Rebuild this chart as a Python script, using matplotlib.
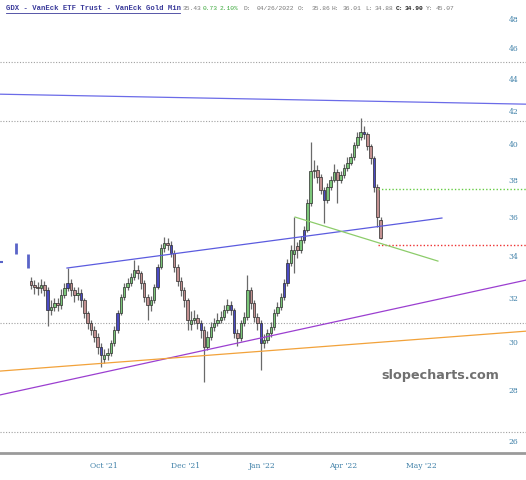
import matplotlib.pyplot as plt
from matplotlib.lines import Line2D
from matplotlib.ticker import FixedLocator, FixedFormatter, NullLocator

# daily OHLC for GDX (last bar = 04/26/2022)
opens = [32.80, 32.60, 32.51, 32.46, 32.60, 32.37, 31.44, 31.58, 31.76, 31.67,
         32.13, 32.46, 32.70, 32.37, 32.13, 32.23, 31.90, 31.31, 30.86, 30.55,
         30.24, 29.80, 29.30, 29.45, 29.54, 29.97, 30.55, 31.31, 32.04, 32.51,
         32.70, 32.98, 33.32, 33.18, 32.70, 32.04, 31.67, 31.90, 32.51, 33.47,
         34.41, 34.66, 34.56, 34.16, 33.47, 32.79, 32.37, 31.90, 30.80, 30.99,
         31.08, 30.86, 30.55, 29.80, 30.24, 30.68, 30.86, 30.99, 31.13, 31.44,
         31.67, 31.44, 30.41, 30.19, 30.86, 31.13, 32.37, 31.76, 31.13, 30.86,
         29.97, 30.10, 30.41, 30.68, 31.31, 31.58, 32.04, 32.70, 33.66, 34.10,
         34.50, 34.31, 34.81, 35.32, 36.74, 38.50, 38.54, 38.15, 37.44, 36.90,
         37.60, 37.99, 38.43, 37.99, 38.27, 38.65, 38.94, 39.27, 39.97, 40.43,
         40.73, 40.60, 39.90, 39.20, 37.60, 35.86]
highs = [33.00, 32.85, 32.75, 32.90, 32.80, 32.50, 31.90, 32.00, 32.00, 32.40,
         32.70, 33.42, 32.90, 32.50, 32.50, 32.40, 32.00, 31.40, 31.00, 30.70,
         30.40, 29.95, 29.70, 29.75, 30.10, 30.70, 31.45, 32.20, 32.70, 32.95,
         33.20, 33.80, 33.55, 33.30, 32.85, 32.20, 32.10, 32.65, 33.60, 34.60,
         34.96, 34.90, 34.75, 34.30, 33.60, 33.00, 32.50, 32.00, 31.40, 31.45,
         31.25, 31.00, 30.70, 30.50, 30.90, 31.10, 31.30, 31.40, 31.65, 31.95,
         31.85, 31.55, 30.60, 31.00, 31.35, 33.08, 32.50, 31.90, 31.30, 31.00,
         30.35, 30.60, 30.90, 31.50, 31.80, 32.25, 32.90, 33.85, 34.55, 35.99,
         34.70, 35.00, 35.55, 36.95, 40.13, 39.10, 38.80, 38.30, 37.60, 37.80,
         38.20, 38.90, 38.60, 38.50, 38.90, 39.30, 39.50, 40.15, 40.70, 41.56,
         41.10, 40.75, 40.05, 39.35, 37.75, 36.01]
lows = [32.40, 32.20, 32.15, 32.25, 32.10, 30.70, 31.20, 31.40, 31.40, 31.50,
        32.00, 32.30, 32.10, 31.80, 31.90, 31.60, 31.10, 30.60, 30.30, 30.00,
        29.50, 28.94, 29.10, 29.25, 29.40, 29.85, 30.40, 31.20, 31.90, 32.35,
        32.55, 32.85, 32.90, 32.40, 31.80, 30.99, 31.40, 31.75, 32.40, 33.35,
        34.20, 34.30, 33.95, 33.25, 32.55, 32.10, 31.60, 30.55, 30.55, 30.80,
        30.60, 30.20, 28.32, 29.65, 30.10, 30.50, 30.70, 30.85, 31.00, 31.30,
        31.20, 30.20, 29.85, 30.05, 30.70, 31.00, 31.50, 30.90, 30.55, 28.81,
        29.75, 29.95, 30.25, 30.55, 31.15, 31.45, 31.90, 32.55, 33.50, 33.20,
        33.90, 34.15, 34.65, 35.20, 36.60, 38.10, 37.80, 37.20, 35.68, 36.75,
        37.45, 37.85, 36.74, 37.80, 38.10, 38.50, 38.80, 39.10, 39.80, 40.25,
        40.30, 39.65, 38.90, 37.30, 35.50, 34.88]
closes = [32.60, 32.51, 32.46, 32.60, 32.37, 31.44, 31.58, 31.76, 31.67, 32.13,
          32.46, 32.70, 32.37, 32.13, 32.23, 31.90, 31.31, 30.86, 30.55, 30.24,
          29.80, 29.45, 29.45, 29.54, 29.97, 30.55, 31.31, 32.04, 32.51, 32.70,
          32.98, 33.32, 33.18, 32.70, 32.04, 31.67, 31.90, 32.51, 33.47, 34.41,
          34.66, 34.56, 34.16, 33.47, 32.79, 32.37, 31.90, 30.99, 30.99, 31.08,
          30.86, 30.55, 29.80, 30.24, 30.68, 30.86, 30.99, 31.13, 31.44, 31.67,
          31.44, 30.41, 30.19, 30.86, 31.13, 32.37, 31.76, 31.13, 30.86, 29.97,
          30.10, 30.41, 30.68, 31.31, 31.58, 32.04, 32.70, 33.66, 34.31, 34.31,
          34.31, 34.81, 35.32, 36.74, 38.50, 38.54, 38.15, 37.44, 36.90, 37.60,
          37.99, 38.43, 37.99, 38.27, 38.65, 38.94, 39.27, 39.97, 40.43, 40.73,
          40.60, 39.90, 39.20, 37.60, 35.99, 34.90]
blue_bars = [5, 11, 15, 21, 26, 38, 42, 51, 60, 61, 69, 76, 77, 82, 88, 100, 103]

price_ticks = [26, 28, 30, 32, 34, 36, 38, 40, 42, 44, 46, 48]
date_pos = [21.9, 46.5, 69.4, 93.7, 117.1]
date_labels = ["Oct '21", "Dec '21", "Jan '22", "Apr '22", "May '22"]

# horizontal levels
gray_levels = [45.07, 41.40, 30.85, 26.33]
green_level = 37.50
red_level = 34.56
level_start = 104.2

# trend lines: x in bar index, y in price
trend_x0 = [-9.3, 10.8, 79.3, -9.3, -9.3]
trend_y0 = [43.03, 33.42, 35.99, 27.79, 28.77]
trend_x1 = [148.7, 123.4, 122.2, 148.7, 148.7]
trend_y1 = [42.41, 35.94, 33.76, 32.84, 30.49]
trend_colors = ['#6b6be8', '#5b5bdf', '#8ccc6a', '#9b3fd0', '#f2a23a']

# little blue marks at the left edge
mark_x = [-4.4, -0.9]
mark_lo = [34.11, 33.42]
mark_hi = [34.66, 34.11]

fig = plt.figure(figsize=(5.26, 4.8), dpi=100)
ax = fig.add_axes([0, 27 / 480, 1, 438 / 480])
ax.set_yscale('log')

n = len(closes)
xs = list(range(n))
body_colors = []
for i in range(n):
    if i in blue_bars:
        body_colors.append('#4b4bc4')
    elif closes[i] >= opens[i]:
        body_colors.append('#7cc77a')
    else:
        body_colors.append('#c39191')

ax.vlines(xs, lows, highs, color='#6a6a6a', lw=0.9, zorder=2)
bottoms = [min(o, c) for o, c in zip(opens, closes)]
heights = [max(abs(c - o), 0.05) for o, c in zip(opens, closes)]
ax.bar(xs, heights, bottom=bottoms, width=0.74, color=body_colors,
       edgecolor='#2a2a2a', linewidth=0.5, zorder=3)

for lv in gray_levels:
    ax.axhline(lv, color='#a0a0a0', lw=0.8, ls=(0, (1, 1.5)), zorder=1)
ax.plot([level_start, 149], [green_level, green_level], color='#66cc44', lw=1.0,
        ls=(0, (1, 1.5)), zorder=4)
ax.plot([level_start, 149], [red_level, red_level], color='#ee3333', lw=1.0,
        ls=(0, (1, 1.5)), zorder=4)

for x0, y0, x1, y1, col in zip(trend_x0, trend_y0, trend_x1, trend_y1, trend_colors):
    ax.plot([x0, x1], [y0, y1], color=col, lw=0.9, zorder=4)

ax.hlines(33.71, -9.3, -8.4, color='#5a64c8', lw=1.5)
ax.vlines(mark_x, mark_lo, mark_hi, color='#5a64c8', lw=2)

ax.set_xlim(-9.31, 148.65)
ax.set_ylim(25.54, 48.28)

ax.yaxis.set_major_locator(FixedLocator(price_ticks))
ax.yaxis.set_major_formatter(FixedFormatter([str(p) for p in price_ticks]))
ax.yaxis.set_minor_locator(NullLocator())
ax.tick_params(axis='y', left=False, labelleft=False, right=False, labelright=True,
               pad=-16, labelsize=5.5, labelcolor='#3f80a8')
for lab in ax.get_yticklabels():
    lab.set_family('DejaVu Serif')

ax.set_xticks(date_pos)
ax.set_xticklabels(date_labels, family='DejaVu Serif')
ax.tick_params(axis='x', length=0, pad=6.5, labelsize=5.5, labelcolor='#3f80a8')

for s in ['top', 'left', 'right']:
    ax.spines[s].set_visible(False)
ax.spines['bottom'].set_color('#9a9a9a')
ax.spines['bottom'].set_linewidth(2)

ax.text(0.95, 0.178, 'slopecharts.com', transform=ax.transAxes, ha='right', va='center',
        fontsize=9.2, fontweight='bold', color='#707070', family='DejaVu Sans')

# header line
ty = 1 - 8 / 480
fig.text(6 / 526, ty, 'GDX - VanEck ETF Trust - VanEck Gold Min', family='Liberation Mono',
         fontsize=5.2, fontweight='bold', color='#3a3a9a', va='center')
fig.add_artist(Line2D([6 / 526, 180 / 526], [1 - 12.5 / 480, 1 - 12.5 / 480],
                      color='#3a3a9a', lw=0.6))
pieces = [(183, '35.43', '#777777', 'normal'), (203, '0.73', '#3aa83a', 'normal'),
          (220, '2.10%', '#3aa83a', 'normal'), (243, 'D:', '#777777', 'normal'),
          (257, '04/26/2022', '#777777', 'normal'), (298, 'O:', '#777777', 'normal'),
          (312, '35.86', '#777777', 'normal'), (332, 'H:', '#777777', 'normal'),
          (343, '36.01', '#777777', 'normal'), (365, 'L:', '#777777', 'normal'),
          (375, '34.88', '#777777', 'normal'), (396, 'C:', '#222222', 'bold'),
          (405, '34.90', '#222222', 'bold'), (426, 'Y:', '#777777', 'normal'),
          (436, '45.07', '#777777', 'normal')]
for px, txt, col, wt in pieces:
    fig.text(px / 526, ty, txt, family='Liberation Mono', fontsize=4.5,
             color=col, fontweight=wt, va='center')

plt.savefig('out.png', dpi=100)
